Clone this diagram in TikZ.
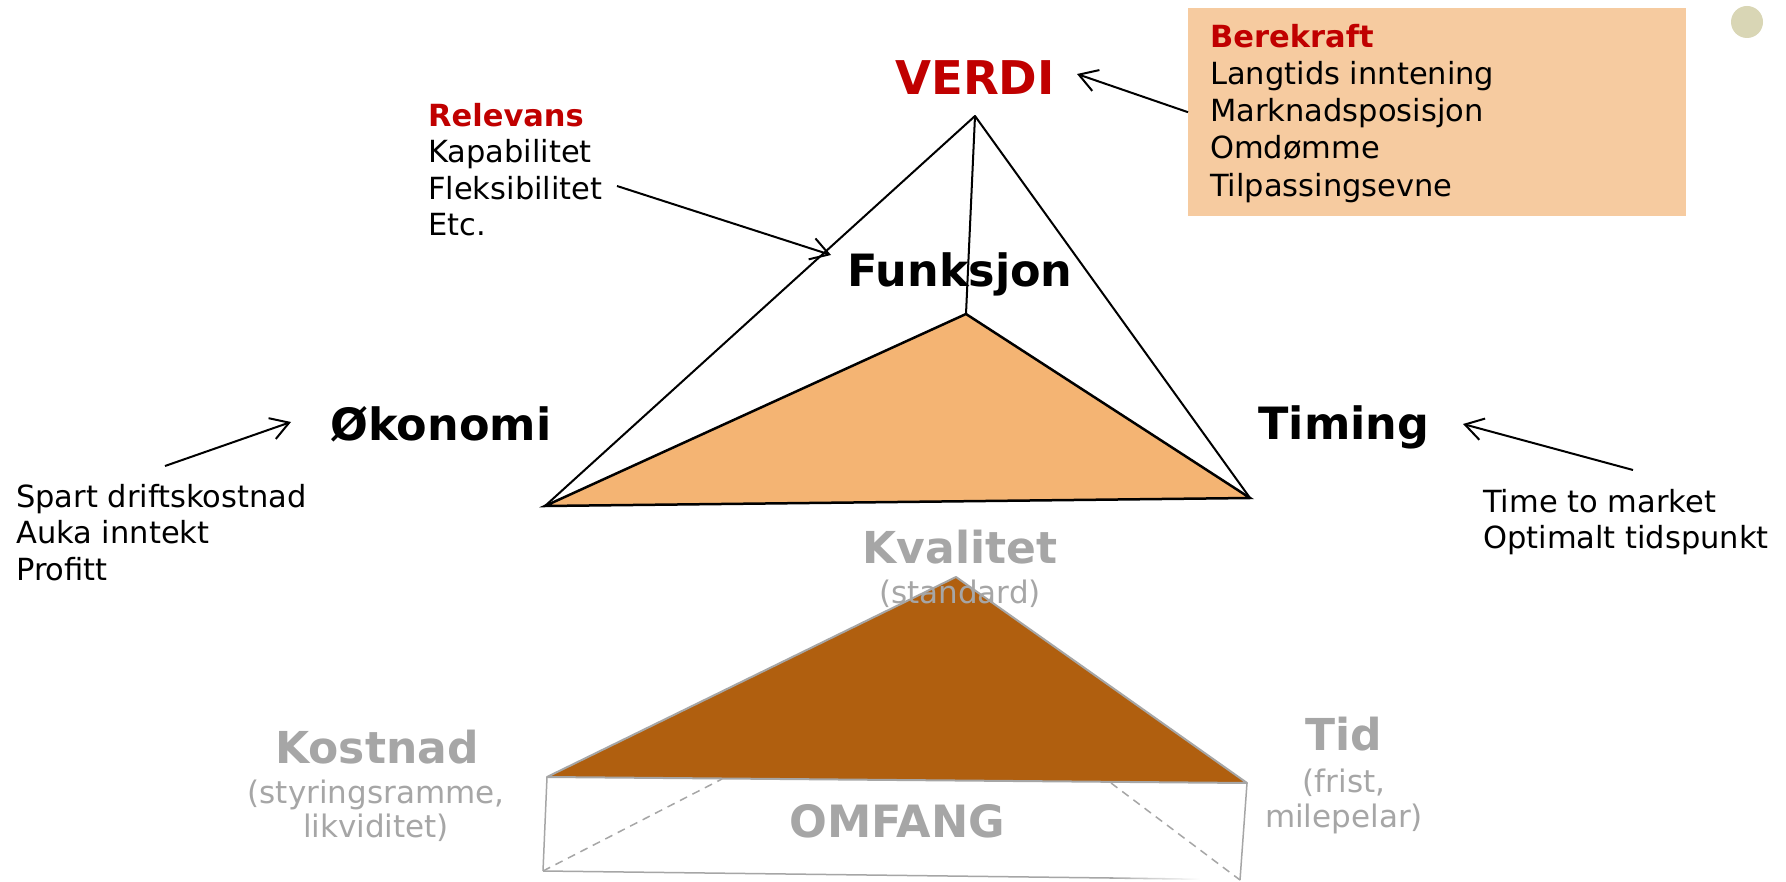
\documentclass[tikz,border=0pt]{standalone}
\usepackage{fontspec}
\setmainfont{DejaVu Sans}
\usetikzlibrary{arrows.meta}
\definecolor{vred}{HTML}{C00000}
\definecolor{orng}{HTML}{F4B473}
\definecolor{boxc}{HTML}{F6CBA0}
\definecolor{brwn}{HTML}{B05F0F}
\definecolor{gry}{HTML}{A6A6A6}
\definecolor{circ}{HTML}{D9D6B5}
\tikzset{
  big/.style={font=\bfseries\fontsize{44.5}{50}\selectfont, inner sep=0pt, anchor=base},
  gbig/.style={font=\bfseries\fontsize{44}{50}\selectfont, text=gry, inner sep=0pt, anchor=base},
  small/.style={font=\fontsize{30.5}{36}\selectfont, inner sep=0pt, anchor=base west},
  smallb/.style={font=\bfseries\fontsize{30.5}{36}\selectfont, text=vred, inner sep=0pt, anchor=base west},
  gsub/.style={font=\fontsize{31}{36}\selectfont, text=gry, inner sep=0pt, anchor=base},
  pointer/.style={line width=2pt, -{Straight Barb[length=18pt,width=22pt]}},
  edge/.style={line width=2pt, line join=round},
  gedge/.style={draw=gry, line width=2pt, line join=round},
  gbox/.style={draw=gry, line width=1.5pt},
  hidden/.style={draw=gry, line width=1.5pt, dash pattern=on 8pt off 6pt}
}
\begin{document}
\begin{tikzpicture}[x=1pt,y=-1pt]
\useasboundingbox[fill=white] (0,0) rectangle (1786,882);

% vertices of the upper pyramid
\coordinate (V) at (975,116);
\coordinate (L) at (545,506);
\coordinate (F) at (966,314);
\coordinate (R) at (1250,498);
% vertices of the lower prism
\coordinate (KA) at (956,577);
\coordinate (KL) at (547,777);
\coordinate (KR) at (1247,783);
\coordinate (BL) at (543,871);
\coordinate (BR) at (1240,880);
\coordinate (DL) at (722,779);
\coordinate (DR) at (1111,783);
\coordinate (BF) at (1110,878);

% upper pyramid
\draw[edge] (L) -- (V) -- (R);
\draw[edge] (V) -- (F);
\filldraw[edge, fill=orng, line width=2.5pt, line join=miter] (L) -- (F) -- (R) -- cycle;

% lower prism
\draw[gbox] (KL) -- (BL);
\draw[gbox] (KR) -- (BR);
\draw[gbox] (BL) -- (BF);
\shade[left color=gry, right color=white] (1110,877.2) -- (1200,878.5) -- (1200,880.0) -- (1110,878.8) -- cycle;
\draw[hidden] (BL) -- (DL);
\draw[hidden] (DR) -- (BR);
\filldraw[gedge, fill=brwn] (KL) -- (KA) -- (KR) -- cycle;

% sustainability box
\node[fill=boxc, minimum width=498pt, minimum height=208pt, inner sep=0pt, anchor=north west] (bk) at (1188,8) {};
\node[smallb] (bk0) at (1210,48) {Berekraft};
\node[small] (bk1) at (1210,85) {Langtids inntening};
\node[small] (bk2) at (1210,122) {Marknadsposisjon};
\node[small] (bk3) at (1210,159) {Omdømme};
\node[small] (bk4) at (1210,197) {Tilpassingsevne};

% dot
\node[circle, fill=circ, minimum size=32pt, inner sep=0pt] (dot) at (1747,22) {};

% main labels
\node[big, text=vred, font=\bfseries\fontsize{46.5}{50}\selectfont] (verdi) at (975,95) {VERDI};
\node[big] (funk) at (960,287) {Funksjon};
\node[big] (okon) at (441,440) {Økonomi};
\node[big] (timing) at (1344,439) {Timing};

% relevance text
\node[smallb] (rel0) at (428,127) {Relevans};
\node[small] (rel1) at (428,163) {Kapabilitet};
\node[small] (rel2) at (428,200) {Fleksibilitet};
\node[small] (rel3) at (428,236) {Etc.};

% economy text
\node[small] (oko1) at (16,507) {Spart driftskostnad};
\node[small] (oko2) at (16,543) {Auka inntekt};
\node[small] (oko3) at (16,580) {Profitt};

% timing text
\node[small] (tim1) at (1483,512) {Time to market};
\node[small] (tim2) at (1483,548) {Optimalt tidspunkt};

% arrows
\coordinate (a1s) at (617,186); \coordinate (a1e) at (831,255);
\coordinate (a2s) at (165,466); \coordinate (a2e) at (291,422);
\coordinate (a3s) at (1633,470); \coordinate (a3e) at (1463,424);
\coordinate (a4e) at (1077,74);
\draw[pointer] (bk.west) -- (a4e);
\draw[pointer] (a1s) -- (a1e);
\draw[pointer] (a2s) -- (a2e);
\draw[pointer] (a3s) -- (a3e);

% lower labels
\node[gbig] (kval) at (960,563) {Kvalitet};
\node[gsub] (std) at (960,603) {(standard)};
\node[gbig] (kost) at (377,763) {Kostnad};
\node[gsub] (kost1) at (376,803) {(styringsramme,};
\node[gsub] (kost2) at (376,837) {likviditet)};
\node[gbig] (tid) at (1344,750) {Tid};
\node[gsub] (tid1) at (1344,792) {(frist,};
\node[gsub] (tid2) at (1344,827) {milepelar)};
\node[big, text=gry] (omf) at (897,837) {OMFANG};
\end{tikzpicture}
\end{document}
